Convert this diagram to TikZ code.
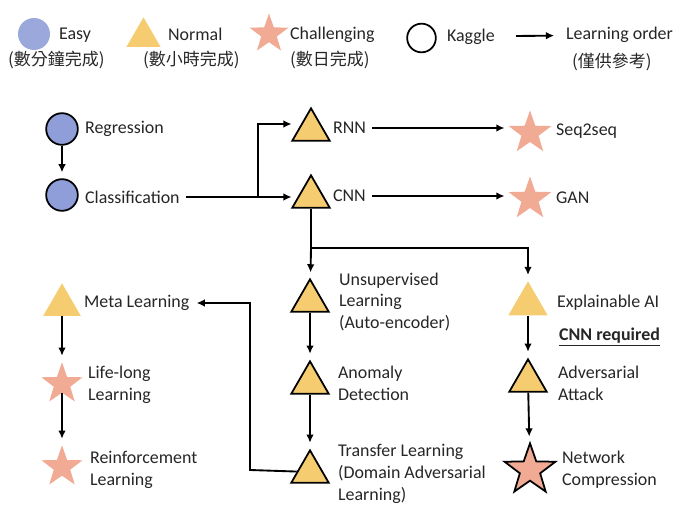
\documentclass[tikz,border=0pt]{standalone}
\usepackage{fontspec}
\setmainfont{Carlito}
\newfontfamily\cjk{Noto Sans CJK TC}
\usetikzlibrary{arrows.meta, shapes.geometric, positioning}
\definecolor{easyc}{RGB}{143,158,216}
\definecolor{normc}{RGB}{245,204,112}
\definecolor{hardc}{RGB}{241,170,148}
\definecolor{txtc}{RGB}{38,38,38}
\tikzset{
  lbl/.style={anchor=west, align=left, inner xsep=5pt, inner ysep=0pt, text=txtc,
              font=\fontsize{15.3pt}{18.7pt}\selectfont},
  cjklbl/.style={lbl, font=\cjk\fontsize{14.5pt}{18.7pt}\selectfont},
  circ/.style={circle, inner sep=0pt, minimum size=0.95cm, fill=easyc},
  tri/.style={regular polygon, regular polygon sides=3, inner sep=0pt,
              minimum size=1.36cm, fill=normc},
  starn/.style={star, star points=5, star point ratio=2.5, inner sep=0pt,
                minimum size=1.35cm, fill=hardc},
  bord/.style={draw=black, line width=1.5pt},
  ln/.style={line width=1.6pt},
  arr/.style={-{Latex[length=7pt,width=6.5pt]}, line width=1.6pt, shorten >=5pt},
}
\begin{document}
\begin{tikzpicture}[x=0.03cm, y=-0.03cm]
  \useasboundingbox (0,0) rectangle (693,507);
  % legend
  \node[circ, fill=easyc!90, minimum size=0.96cm] (lg-e) at (34,34) {};
  \node[lbl] (lg-e-t) at (53,35) {Easy};
  \node[cjklbl] (lg-e-c) at (2,60) {(數分鐘完成)};
  \node[tri, minimum size=1.18cm] (lg-n) at (143.5,37) {};
  \node[lbl] (lg-n-t) at (162,34) {Normal};
  \node[cjklbl] (lg-n-c) at (137,60) {(數小時完成)};
  \node[starn, minimum size=1.23cm] (lg-h) at (269,34) {};
  \node[lbl] (lg-h-t) at (284,35) {Challenging};
  \node[cjklbl] (lg-h-c) at (284,60) {(數日完成)};
  \node[circle, bord, inner sep=0pt, minimum size=0.86cm] (lg-k) at (421.5,38) {};
  \node[lbl] (lg-k-t) at (441,37) {Kaggle};
  \coordinate (lg-a) at (516,36);
  \node[lbl] (lg-o) at (560,35) {Learning order};
  \node[cjklbl] (lg-o-c) at (566,62) {(僅供參考)};
  \draw[arr] (lg-a) -- (lg-o);

  % basics
  \node[circ, bord] (reg) at (62,129) {};
  \node[lbl] (reg-t) at (79,129) {Regression};
  \node[circ, bord] (cls) at (62,195) {};
  \node[lbl] (cls-t) at (79,197) {Classification};

  % rnn / cnn
  \node[tri, bord, minimum size=1.3cm] (rnn) at (311,130) {};
  \node[lbl] (rnn-t) at (327,128) {RNN};
  \node[tri, bord, minimum size=1.3cm] (cnn) at (311,197) {};
  \node[lbl] (cnn-t) at (327,196) {CNN};
  \node[starn] (s2s) at (530,133) {};
  \node[lbl] (s2s-t) at (550,131) {Seq2seq};
  \node[starn] (gan) at (530,199) {};
  \node[lbl] (gan-t) at (550,198) {GAN};

  % below cnn
  \node[tri, bord, minimum size=1.3cm] (uns) at (310,301) {};
  \node[lbl] (uns-t) at (333,302) {Unsupervised\\Learning\\(Auto-encoder)};
  \node[tri, bord, minimum size=1.3cm] (ano) at (310,383) {};
  \node[lbl] (ano-t) at (332,383) {Anomaly\\Detection};
  \node[tri, bord, minimum size=1.3cm] (tl) at (310,472) {};
  \node[lbl] (tl-t) at (332,474) {Transfer Learning\\(Domain Adversarial\\Learning)};
  \node[tri] (xai) at (528,304) {};
  \node[lbl] (xai-t) at (551,303) {Explainable AI};
  \node[lbl, font=\fontsize{15.3pt}{18.7pt}\selectfont\bfseries] (req) at (553,337)
    {\underline{CNN required}};
  \node[tri, bord, minimum size=1.3cm] (adv) at (528,381) {};
  \node[lbl] (adv-t) at (552,383) {Adversarial\\Attack};
  \node[starn, bord, minimum size=1.6cm] (nc) at (530,470) {};
  \node[lbl] (nc-t) at (556,470) {Network\\Compression};

  % left column
  \node[tri, minimum size=1.3cm] (meta) at (62,305) {};
  \node[lbl] (meta-t) at (78,303) {Meta Learning};
  \node[starn, minimum size=1.3cm] (ll) at (62,384) {};
  \node[lbl] (ll-t) at (82,385) {Life-long\\Learning};
  \node[starn, minimum size=1.3cm] (rl) at (62,467) {};
  \node[lbl] (rl-t) at (84,470) {Reinforcement\\Learning};

  % order
  \foreach \a/\b in {reg/cls, uns/ano, ano/tl, xai/adv, adv/nc, meta/ll, ll/rl}
    \draw[arr] (\a) -- (\b);
  \coordinate (br) at (258,197);
  \coordinate (br-top) at (258,124);
  \draw[arr] (cls-t) -- (cnn);
  \draw[arr] (br) -- (br-top) -- (br-top -| rnn.west);
  \draw[arr, shorten >=11pt] (rnn-t) -- (rnn-t -| s2s.west);
  \draw[arr, shorten >=11pt] (cnn-t) -- (cnn-t -| gan.west);
  \coordinate (sp) at (311,248);
  \draw[ln] (cnn) -- (sp);
  \draw[arr] (sp) -- (uns);
  \draw[arr] (sp) -| (xai);
  \coordinate (bk) at (250,470);
  \draw[arr, shorten >=1pt] (tl) -- (bk) |- (meta-t);
\end{tikzpicture}
\end{document}
